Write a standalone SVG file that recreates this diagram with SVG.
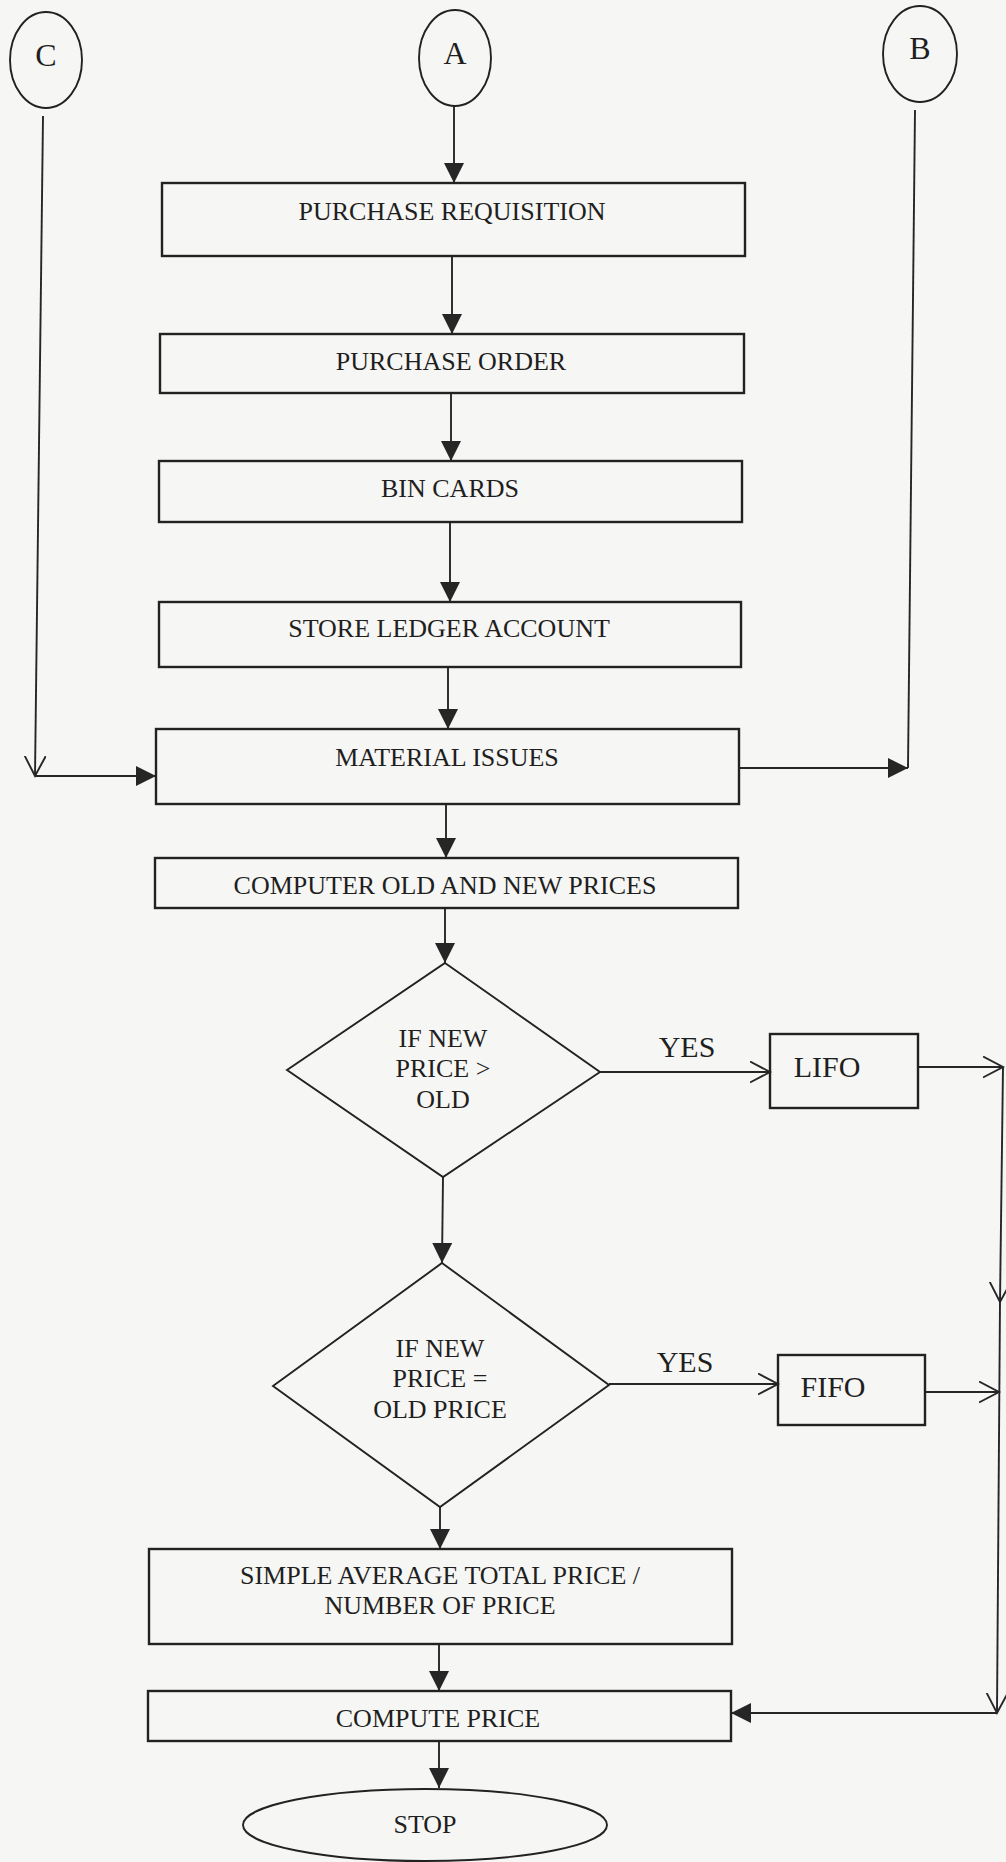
<svg xmlns="http://www.w3.org/2000/svg" width="1006" height="1862" viewBox="0 0 1006 1862">
<defs>
<style>
.bg{fill:#f6f6f4}
.box{fill:none;stroke:#222;stroke-width:2.4}
.sh{fill:none;stroke:#222;stroke-width:1.9}
.ln{fill:none;stroke:#262626;stroke-width:1.9}
.t{font-family:"Liberation Serif","Times New Roman",serif;fill:#1f1f1f;text-anchor:middle}
.t26{font-size:26px}
.t30{font-size:30px}
.t32{font-size:32px}
</style>
<marker id="fa" markerUnits="userSpaceOnUse" markerWidth="22" markerHeight="22" refX="20" refY="10" orient="auto">
<path d="M0,0 L20,10 L0,20 z" fill="#262626"/>
</marker>
<marker id="oa" markerUnits="userSpaceOnUse" markerWidth="24" markerHeight="24" refX="20" refY="11" orient="auto">
<path d="M0,0.5 L20,11 L0,21.5" fill="none" stroke="#262626" stroke-width="1.9"/>
</marker>
</defs>
<rect class="bg" x="0" y="0" width="1006" height="1862"/>

<g id="connectors">
<line class="ln" x1="454" y1="106" x2="454" y2="183" marker-end="url(#fa)"/>
<line class="ln" x1="452" y1="256" x2="452" y2="334" marker-end="url(#fa)"/>
<line class="ln" x1="451" y1="393" x2="451" y2="461" marker-end="url(#fa)"/>
<line class="ln" x1="450" y1="522" x2="450" y2="602" marker-end="url(#fa)"/>
<line class="ln" x1="448" y1="667" x2="448" y2="729" marker-end="url(#fa)"/>
<line class="ln" x1="446" y1="804" x2="446" y2="858" marker-end="url(#fa)"/>
<line class="ln" x1="445" y1="908" x2="445" y2="963" marker-end="url(#fa)"/>
<line class="ln" x1="443" y1="1177" x2="442" y2="1263" marker-end="url(#fa)"/>
<line class="ln" x1="440" y1="1507" x2="440" y2="1549" marker-end="url(#fa)"/>
<line class="ln" x1="439" y1="1644" x2="439" y2="1691" marker-end="url(#fa)"/>
<line class="ln" x1="439" y1="1741" x2="439" y2="1788" marker-end="url(#fa)"/>
<line class="ln" x1="43" y1="116" x2="35" y2="776" marker-end="url(#oa)"/>
<line class="ln" x1="35" y1="776" x2="156" y2="776" marker-end="url(#fa)"/>
<line class="ln" x1="739" y1="768" x2="908" y2="768" marker-end="url(#fa)"/>
<line class="ln" x1="915" y1="110" x2="908" y2="768"/>
<line class="ln" x1="600" y1="1072" x2="770" y2="1072" marker-end="url(#oa)"/>
<line class="ln" x1="609" y1="1384" x2="778" y2="1384" marker-end="url(#oa)"/>
<line class="ln" x1="918" y1="1067" x2="1003" y2="1067" marker-end="url(#oa)"/>
<line class="ln" x1="925" y1="1392" x2="999" y2="1392" marker-end="url(#oa)"/>
<line class="ln" x1="1003" y1="1067" x2="1000" y2="1302" marker-end="url(#oa)"/>
<line class="ln" x1="1000" y1="1302" x2="997" y2="1713" marker-end="url(#oa)"/>
<line class="ln" x1="997" y1="1713" x2="731" y2="1713" marker-end="url(#fa)"/>
</g>

<g id="node-c">
<ellipse class="sh" cx="46" cy="60" rx="36" ry="48"/>
<text class="t t32" x="46" y="66">C</text>
</g>
<g id="node-a">
<ellipse class="sh" cx="455" cy="58" rx="36" ry="48"/>
<text class="t t32" x="455" y="64">A</text>
</g>
<g id="node-b">
<ellipse class="sh" cx="920" cy="54" rx="37" ry="48"/>
<text class="t t32" x="920" y="59">B</text>
</g>

<g id="purchase-requisition">
<rect class="box" x="162" y="183" width="583" height="73"/>
<text class="t t26" x="452" y="220">PURCHASE REQUISITION</text>
</g>
<g id="purchase-order">
<rect class="box" x="160" y="334" width="584" height="59"/>
<text class="t t26" x="451" y="370">PURCHASE ORDER</text>
</g>
<g id="bin-cards">
<rect class="box" x="159" y="461" width="583" height="61"/>
<text class="t t26" x="450" y="497">BIN CARDS</text>
</g>
<g id="store-ledger-account">
<rect class="box" x="159" y="602" width="582" height="65"/>
<text class="t t26" x="449" y="637">STORE LEDGER ACCOUNT</text>
</g>
<g id="material-issues">
<rect class="box" x="156" y="729" width="583" height="75"/>
<text class="t t26" x="447" y="766">MATERIAL ISSUES</text>
</g>
<g id="computer-old-new-prices">
<rect class="box" x="155" y="858" width="583" height="50"/>
<text class="t t26" x="445" y="894">COMPUTER OLD AND NEW PRICES</text>
</g>

<g id="decision-greater">
<polygon class="sh" points="445,963 600,1072 443,1177 287,1070"/>
<text class="t t26" x="443" y="1047">IF NEW</text>
<text class="t t26" x="443" y="1077">PRICE &gt;</text>
<text class="t t26" x="443" y="1108">OLD</text>
</g>
<text class="t t30" x="687" y="1057">YES</text>
<g id="lifo">
<rect class="box" x="770" y="1034" width="148" height="74"/>
<text class="t t30" x="827" y="1077">LIFO</text>
</g>

<g id="decision-equal">
<polygon class="sh" points="442,1263 609,1385 440,1507 273,1386"/>
<text class="t t26" x="440" y="1357">IF NEW</text>
<text class="t t26" x="440" y="1387">PRICE =</text>
<text class="t t26" x="440" y="1418">OLD PRICE</text>
</g>
<text class="t t30" x="685" y="1372">YES</text>
<g id="fifo">
<rect class="box" x="778" y="1355" width="147" height="70"/>
<text class="t t30" x="833" y="1397">FIFO</text>
</g>

<g id="simple-average">
<rect class="box" x="149" y="1549" width="583" height="95"/>
<text class="t t26" x="440" y="1584">SIMPLE AVERAGE TOTAL PRICE /</text>
<text class="t t26" x="440" y="1614">NUMBER OF PRICE</text>
</g>
<g id="compute-price">
<rect class="box" x="148" y="1691" width="583" height="50"/>
<text class="t t26" x="438" y="1727">COMPUTE PRICE</text>
</g>
<g id="stop">
<ellipse class="sh" cx="425" cy="1825" rx="182" ry="36"/>
<text class="t t26" x="425" y="1833">STOP</text>
</g>
</svg>
